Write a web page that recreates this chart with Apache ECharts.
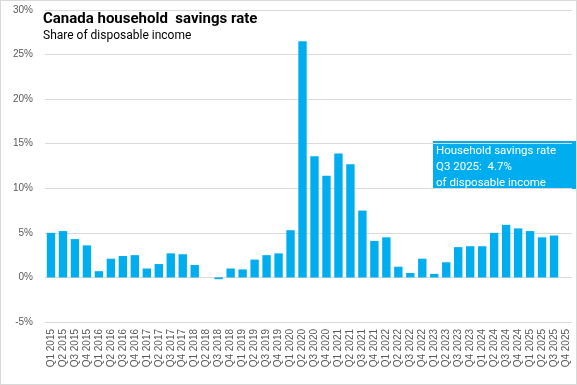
<!DOCTYPE html>
<html><head><meta charset="utf-8">
<script src="https://cdn.jsdelivr.net/npm/echarts@6/dist/echarts.min.js"></script>
<style>
html,body{margin:0;padding:0;background:#fff;}
#c{width:575px;height:383px;border:1px solid #d9d9d9;}
</style></head>
<body><div id="c"></div>
<script>
const years = [2015,2016,2017,2018,2019,2020,2021,2022,2023,2024,2025];
const categories = [];
years.forEach(y => { for (let q = 1; q <= 4; q++) categories.push('Q' + q + ' ' + y); });
const savingsRate = [
  5.0, 5.2, 4.3, 3.6,
  0.7, 2.1, 2.4, 2.5,
  1.0, 1.5, 2.7, 2.6,
  1.4, 0.0, -0.2, 1.0,
  0.9, 2.0, 2.5, 2.7,
  5.3, 26.5, 13.6, 11.4,
  13.9, 12.7, 7.5, 4.1,
  4.5, 1.2, 0.5, 2.1,
  0.4, 1.7, 3.4, 3.5,
  3.5, 5.0, 5.9, 5.5,
  5.2, 4.5, 4.7, null
];
const yTicks = { min: -5, max: 30, interval: 5 };
const titleText = 'Canada household  savings rate';
const subtitleText = 'Share of disposable income';
const noteLines = ['Household savings rate', 'Q3 2025:  4.7%', 'of disposable income'];

const chart = echarts.init(document.getElementById('c'), null, {renderer:'canvas'});
chart.setOption({
  animation: false,
  grid: { left: 44, right: 4, top: 9, bottom: 62 },
  title: {
    text: titleText, subtext: subtitleText,
    left: 37, top: 6, itemGap: 3,
    textStyle: { fontFamily: 'Roboto', fontWeight: 'bold', fontSize: 15, color: '#000' },
    subtextStyle: { fontFamily: 'Roboto', fontSize: 12, color: '#000' }
  },
  xAxis: {
    type: 'category', data: categories,
    axisLine: { show: false }, axisTick: { show: false },
    axisLabel: { interval: 0, rotate: 90, fontFamily: 'Liberation Sans', fontSize: 10, color: '#595959', margin: 7 }
  },
  yAxis: {
    type: 'value', min: yTicks.min, max: yTicks.max, interval: yTicks.interval,
    axisLabel: { formatter: '{value}%', fontFamily: 'Liberation Sans', fontSize: 10, color: '#595959', margin: 12 },
    splitLine: { lineStyle: { color: '#d9d9d9', width: 1 } },
    axisLine: { show: false }, axisTick: { show: false }
  },
  series: [{
    type: 'bar', data: savingsRate, barCategoryGap: '30%',
    itemStyle: { color: '#00AEEF' }
  }],
  graphic: [{
    type: 'group', left: 432, top: 140,
    children: [
      { type: 'rect', shape: { x: 0, y: 0, width: 145, height: 48 }, style: { fill: '#00AEEF' } },
      { type: 'text', left: 3, top: 2, style: { text: noteLines.join('\n'), fill: '#fff', fontFamily: 'Roboto', fontSize: 11.5, lineHeight: 16 } }
    ]
  }]
});
</script></body></html>
